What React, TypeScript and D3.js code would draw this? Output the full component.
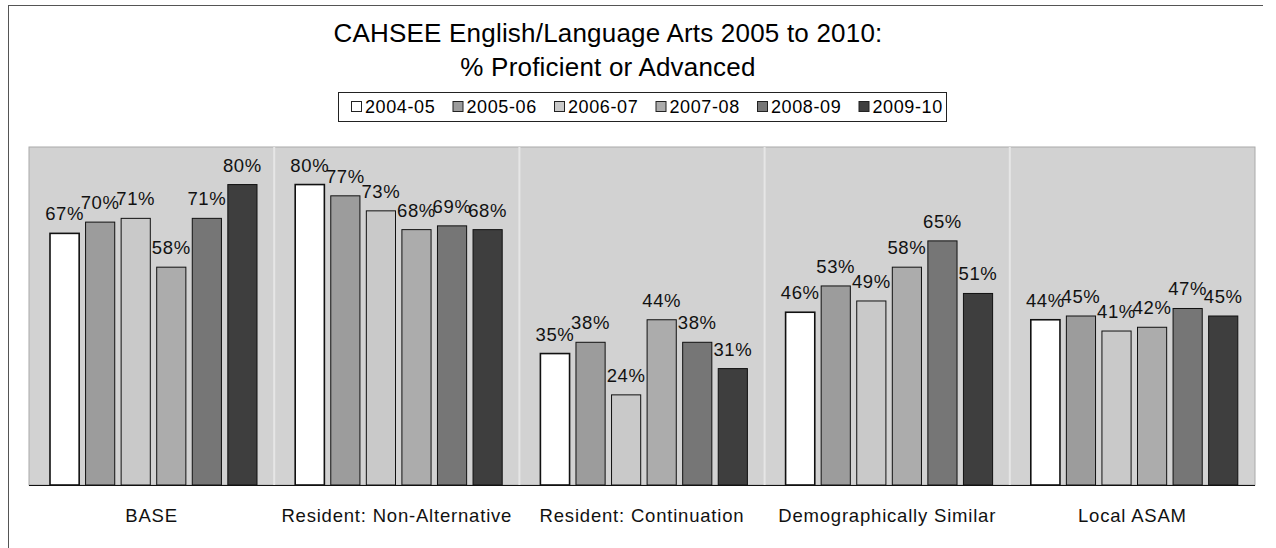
import React from "react";
import * as d3 from "d3";

const categories = [
  "BASE",
  "Resident: Non-Alternative",
  "Resident: Continuation",
  "Demographically Similar",
  "Local ASAM",
];
const seriesNames = ["2004-05", "2005-06", "2006-07", "2007-08", "2008-09", "2009-10"];
const s0405 = [67, 80, 35, 46, 44];
const s0506 = [70, 77, 38, 53, 45];
const s0607 = [71, 73, 24, 49, 41];
const s0708 = [58, 68, 44, 58, 42];
const s0809 = [71, 69, 38, 65, 47];
const s0910 = [80, 68, 31, 51, 45];
const seriesValues = [s0405, s0506, s0607, s0708, s0809, s0910];
const seriesColors = ["#ffffff", "#9c9c9c", "#c9c9c9", "#acacac", "#767676", "#3e3e3e"];

const FONT = "'Liberation Sans', Arial, sans-serif";

export default function App() {
  const width = 1276;
  const height = 548;
  const plot = { left: 29, right: 1255, top: 147, bottom: 485 };

  const x0 = d3.scaleBand().domain(categories).range([plot.left, plot.right]);
  const x1 = d3
    .scaleBand()
    .domain(seriesNames)
    .range([21, 228])
    .paddingInner(0.18);
  const y = d3.scaleLinear().domain([0, 90]).range([plot.bottom, plot.top]);

  const legendStep = 101.5;
  const legendX = 351;

  return (
    <svg
      width={width}
      height={height}
      style={{ position: "absolute", left: 0, top: 0, background: "#fff" }}
      fontFamily={FONT}
    >
      {/* outer frame */}
      <line x1={8} x2={1263} y1={5.5} y2={5.5} stroke="#555" />
      <line x1={8.5} x2={8.5} y1={5} y2={548} stroke="#555" />

      {/* title */}
      <text x={608} y={42} textAnchor="middle" fontSize={26} letterSpacing={0.2}>
        CAHSEE English/Language Arts 2005 to 2010:
      </text>
      <text x={608} y={76} textAnchor="middle" fontSize={26} letterSpacing={0.2}>
        % Proficient or Advanced
      </text>

      {/* legend */}
      <rect x={338.5} y={92.5} width={608} height={29} fill="#fff" stroke="#222" />
      {seriesNames.map((s, i) => (
        <g key={s} transform={`translate(${legendX + i * legendStep},0)`}>
          <rect x={0.5} y={101.5} width={10} height={10} fill={seriesColors[i]} stroke="#222" />
          <text x={14} y={113} fontSize={18} letterSpacing={0.6}>
            {s}
          </text>
        </g>
      ))}

      {/* plot area */}
      <rect
        x={plot.left}
        y={plot.top}
        width={plot.right - plot.left}
        height={plot.bottom - plot.top}
        fill="#d2d2d2"
        stroke="#aaa"
      />
      {categories.slice(1).map((c) => (
        <line
          key={c}
          x1={x0(c)}
          x2={x0(c)}
          y1={plot.top}
          y2={plot.bottom}
          stroke="#e6e6e6"
          strokeWidth={2}
        />
      ))}

      {/* bars */}
      {categories.map((c, ci) => (
        <g key={c} transform={`translate(${x0(c)},0)`}>
          {seriesNames.map((s, si) => {
            const v = seriesValues[si][ci];
            return (
              <rect
                key={s}
                x={x1(s)}
                y={y(v)}
                width={x1.bandwidth()}
                height={plot.bottom - y(v)}
                fill={seriesColors[si]}
                stroke="#111"
                strokeWidth={si === 0 ? 1.6 : 1}
              />
            );
          })}
          {seriesNames.map((s, si) => {
            const v = seriesValues[si][ci];
            return (
              <text
                key={s}
                x={(x1(s) ?? 0) + x1.bandwidth() / 2}
                y={y(v) - 13}
                textAnchor="middle"
                fontSize={18.5}
                letterSpacing={0.6}
                fill="#111"
              >
                {v}%
              </text>
            );
          })}
        </g>
      ))}

      {/* x axis */}
      <line x1={plot.left} x2={plot.right} y1={plot.bottom + 0.5} y2={plot.bottom + 0.5} stroke="#111" />
      {categories.map((c) => (
        <text
          key={c}
          x={(x0(c) ?? 0) + x0.bandwidth() / 2}
          y={522}
          textAnchor="middle"
          fontSize={18.5}
          letterSpacing={0.8}
          fill="#111"
        >
          {c}
        </text>
      ))}
    </svg>
  );
}
